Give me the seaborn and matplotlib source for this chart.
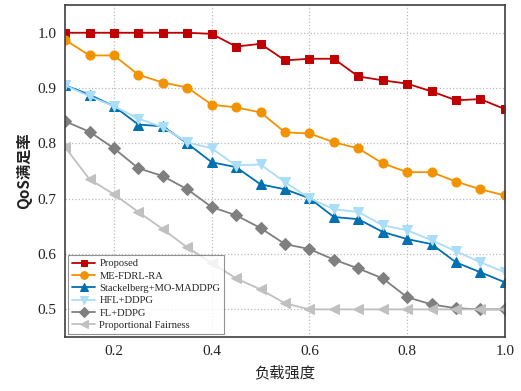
import matplotlib
matplotlib.use("Agg")
import matplotlib.pyplot as plt
import seaborn as sns
import numpy as np
import pandas as pd

load = [0.1, 0.15, 0.2, 0.25, 0.3, 0.35, 0.4, 0.45, 0.5, 0.55,
        0.6, 0.65, 0.7, 0.75, 0.8, 0.85, 0.9, 0.95, 1.0]

proposed = [1.0, 1.0, 1.0, 1.0, 1.0, 1.0, 0.998, 0.975, 0.98, 0.95,
            0.953, 0.953, 0.921, 0.914, 0.908, 0.894, 0.878, 0.88, 0.862]
me_fdrl = [0.987, 0.959, 0.959, 0.924, 0.91, 0.901, 0.87, 0.865, 0.856, 0.82,
           0.818, 0.802, 0.791, 0.764, 0.748, 0.748, 0.731, 0.717, 0.706]
stackelberg = [0.905, 0.888, 0.867, 0.834, 0.831, 0.8, 0.766, 0.757, 0.726, 0.717,
               0.701, 0.667, 0.663, 0.64, 0.627, 0.618, 0.585, 0.567, 0.549]
hfl = [0.905, 0.885, 0.867, 0.845, 0.829, 0.802, 0.791, 0.76, 0.762, 0.73,
       0.701, 0.681, 0.676, 0.652, 0.643, 0.625, 0.605, 0.585, 0.567]
fl = [0.84, 0.821, 0.791, 0.755, 0.741, 0.717, 0.685, 0.67, 0.647, 0.618,
      0.609, 0.59, 0.574, 0.556, 0.522, 0.509, 0.502, 0.5, 0.5]
pf = [0.793, 0.735, 0.708, 0.676, 0.645, 0.612, 0.584, 0.556, 0.536, 0.511,
      0.5, 0.5, 0.5, 0.5, 0.5, 0.5, 0.5, 0.5, 0.5]

names = ["Proposed", "ME-FDRL-RA", "Stackelberg+MO-MADDPG",
         "HFL+DDPG", "FL+DDPG", "Proportional Fairness"]
series = [proposed, me_fdrl, stackelberg, hfl, fl, pf]
colors = ["#C00000", "#F39200", "#0070B0", "#A9DDF8", "#7F7F7F", "#C0C0C0"]
markers = ["s", "o", "^", "v", "D", "<"]
msizes = [5.8, 6.5, 6.5, 6.5, 5.8, 6.5]

sns.set_style("white")
plt.rcParams['font.family'] = ['Liberation Serif', 'Noto Sans CJK SC']
plt.rcParams['axes.unicode_minus'] = False

fig = plt.figure(figsize=(5.21, 3.91), dpi=100)
ax = fig.add_axes([0.125, 0.138, 0.844, 0.849])

for name, vals, c, m, ms in zip(names, series, colors, markers, msizes):
    df = pd.DataFrame({"load": load, "qos": vals})
    sns.lineplot(data=df, x="load", y="qos", ax=ax, color=c, marker=m,
                 markersize=ms, markeredgecolor=c, linewidth=1.3, label=name)

ax.set_xlim(0.1, 1.0)
ax.set_ylim(0.45, 1.05)
ax.set_xticks([0.2, 0.4, 0.6, 0.8, 1.0])
ax.set_yticks([0.5, 0.6, 0.7, 0.8, 0.9, 1.0])
ax.tick_params(direction="in", length=3, labelsize=11, colors="#404040",
               labelcolor="#222222", pad=6)
ax.grid(True, linestyle=":", color="#BBBBBB", linewidth=0.9)
for s in ax.spines.values():
    s.set_color("#404040")
    s.set_linewidth(1.2)

ax.set_xlabel("负载强度", fontsize=11, family=["Noto Sans CJK SC"], color="#222222")
ax.set_ylabel("QoS满足率", fontsize=11, family=["Noto Sans CJK SC"],
              fontweight="bold", color="#222222")

leg = ax.legend(loc="lower left", fontsize=7.6, frameon=True, fancybox=False,
                handlelength=2.2, borderpad=0.35, labelspacing=0.28,
                borderaxespad=0.3, handletextpad=0.4, markerscale=0.85)
leg.get_frame().set_edgecolor("#777777")
leg.get_frame().set_linewidth(0.8)

fig.savefig("out.png", dpi=100)
